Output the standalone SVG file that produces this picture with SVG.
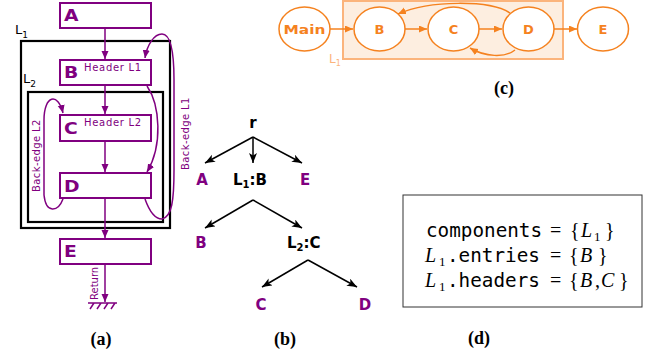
<svg xmlns="http://www.w3.org/2000/svg" width="649" height="358" viewBox="0 0 649 358">
<style>
.pbox{fill:#fff;stroke:#800080;stroke-width:2}
.pl{fill:#800080;font-family:"DejaVu Sans",sans-serif;font-weight:bold;font-size:15px}
.pe{fill:none;stroke:#800080;stroke-width:1.5}
.ps{fill:#800080;font-family:"DejaVu Sans",sans-serif;font-size:10px}
.loop{fill:none;stroke:#000;stroke-width:2.2}
.ll{font-family:"DejaVu Sans",sans-serif;font-size:13px;fill:#000}
.te{fill:none;stroke:#000;stroke-width:1.5}
.tb{font-family:"DejaVu Sans",sans-serif;font-weight:bold;font-size:15px}
.tp{fill:#800080}
.oe{fill:#fff;stroke:#f5821f;stroke-width:1.5}
.ol{fill:#f5821f;font-family:"DejaVu Sans",sans-serif;font-weight:bold;font-size:13px;text-anchor:middle}
.oa{fill:none;stroke:#f5821f;stroke-width:1.5}
.cap{font-family:"Liberation Serif",serif;font-weight:bold;font-size:18px;text-anchor:middle;fill:#000}
.mono{font-family:"DejaVu Sans Mono",monospace;font-size:19.3px;fill:#000}
.mi{font-family:"Liberation Serif",serif;font-style:italic;font-size:20px;fill:#000}
.mr{font-family:"Liberation Serif",serif;font-size:20px;fill:#000}
.sub{font-family:"Liberation Serif",serif;font-size:13px;fill:#000}
</style>
<defs>
<marker id="ap" markerUnits="userSpaceOnUse" markerWidth="9" markerHeight="8" refX="8" refY="3.5" orient="auto"><path d="M0,0 L8,3.5 L0,7 Z" fill="#800080"/></marker>
<marker id="ab" markerUnits="userSpaceOnUse" markerWidth="11" markerHeight="9" refX="10" refY="4" orient="auto"><path d="M0,0 L10,4 L0,8 L2.5,4 Z" fill="#000"/></marker>
<marker id="ao" markerUnits="userSpaceOnUse" markerWidth="9" markerHeight="8" refX="8" refY="3.5" orient="auto"><path d="M0,0 L8,3.5 L0,7 Z" fill="#f5821f"/></marker>
</defs>

<!-- Panel (a) -->
<g id="loopL1"><rect class="loop" x="21" y="41" width="149" height="187"/><text class="ll" x="15" y="34">L<tspan font-size="9" dy="4">1</tspan></text></g>
<g id="loopL2"><rect class="loop" x="28" y="92" width="135" height="130"/><text class="ll" x="23" y="83">L<tspan font-size="9" dy="4">2</tspan></text></g>

<g id="nodeA"><rect class="pbox" x="60" y="3" width="91" height="25"/><text class="pl" x="64" y="21" transform="translate(64 0) scale(1.25 1) translate(-64 0)">A</text></g>
<g id="nodeB"><rect class="pbox" x="60" y="60" width="91" height="25"/><text class="pl" x="64" y="78" transform="translate(64 0) scale(1.25 1) translate(-64 0)">B</text><text class="ps" x="84" y="71" font-size="10.5" letter-spacing="0.7">Header L1</text></g>
<g id="nodeC"><rect class="pbox" x="60" y="115" width="91" height="26"/><text class="pl" x="64" y="134" transform="translate(64 0) scale(1.25 1) translate(-64 0)">C</text><text class="ps" x="84" y="126" font-size="10.5" letter-spacing="0.7">Header L2</text></g>
<g id="nodeD"><rect class="pbox" x="60" y="173" width="91" height="25"/><text class="pl" x="64" y="192" transform="translate(64 0) scale(1.25 1) translate(-64 0)">D</text></g>
<g id="nodeE"><rect class="pbox" x="60" y="239" width="91" height="25"/><text class="pl" x="64" y="257" transform="translate(64 0) scale(1.25 1) translate(-64 0)">E</text></g>

<g id="edgesA">
<line class="pe" x1="105" y1="28" x2="105" y2="59" marker-end="url(#ap)"/>
<line class="pe" x1="105" y1="85" x2="105" y2="114" marker-end="url(#ap)"/>
<line class="pe" x1="105" y1="141" x2="105" y2="172" marker-end="url(#ap)"/>
<line class="pe" x1="105" y1="198" x2="105" y2="238" marker-end="url(#ap)"/>
<line class="pe" x1="105" y1="264" x2="105" y2="302" marker-end="url(#ap)"/>
<path class="pe" d="M147,86 C160,105 163,145 147,172" marker-end="url(#ap)"/>
<path class="pe" d="M145,199 C150,213 156,219 162,219 C172,217 174,200 174,170 L174,80 C174,50 170,34 162,34 C154,34 147,45 145,58" marker-end="url(#ap)"/>
<path class="pe" d="M63,199 C58,212 46,214 44,195 L44,120 C44,95 58,92 63,113" marker-end="url(#ap)"/>
<path class="pe" d="M88,303 L117,303 M94,303 L90,309 M101,303 L97,309 M108,303 L104,309 M115,303 L111,309"/>
<text class="ps" font-size="8" transform="translate(98 300) rotate(-90)">Return</text>
<text class="ps" transform="translate(189 170) rotate(-90)" letter-spacing="0.4">Back-edge L1</text>
<text class="ps" transform="translate(40 192) rotate(-90)" letter-spacing="0.4">Back-edge L2</text>
</g>
<text class="cap" x="101" y="345">(a)</text>

<!-- Panel (b) -->
<g id="tree_r"><text class="tb" x="253" y="128" text-anchor="middle">r</text></g>
<g id="tree_A"><text class="tb tp" x="202" y="185" text-anchor="middle">A</text></g>
<g id="tree_L1B"><text class="tb" x="233" y="185">L<tspan font-size="10" dy="3">1</tspan><tspan dy="-3">:B</tspan></text></g>
<g id="tree_E"><text class="tb tp" x="305" y="185" text-anchor="middle">E</text></g>
<g id="tree_B"><text class="tb tp" x="201" y="248" text-anchor="middle">B</text></g>
<g id="tree_L2C"><text class="tb" x="287" y="248">L<tspan font-size="10" dy="3">2</tspan><tspan dy="-3">:C</tspan></text></g>
<g id="tree_C"><text class="tb tp" x="261" y="310" text-anchor="middle">C</text></g>
<g id="tree_D"><text class="tb tp" x="365" y="310" text-anchor="middle">D</text></g>
<g id="edgesB">
<line class="te" x1="253" y1="137" x2="205" y2="163" marker-end="url(#ab)"/>
<line class="te" x1="253" y1="137" x2="253" y2="163" marker-end="url(#ab)"/>
<line class="te" x1="253" y1="137" x2="302" y2="163" marker-end="url(#ab)"/>
<line class="te" x1="253" y1="200" x2="205" y2="228" marker-end="url(#ab)"/>
<line class="te" x1="253" y1="200" x2="302" y2="228" marker-end="url(#ab)"/>
<line class="te" x1="308" y1="260" x2="262" y2="287" marker-end="url(#ab)"/>
<line class="te" x1="308" y1="260" x2="357" y2="287" marker-end="url(#ab)"/>
</g>
<text class="cap" x="285" y="345">(b)</text>

<!-- Panel (c) -->
<g id="clusterL1"><rect x="343" y="1" width="220" height="58" fill="#fdeee0" stroke="#fbb47c" stroke-width="2"/><text x="329" y="63" fill="#fbb47c" font-family="DejaVu Sans,sans-serif" font-size="12">L<tspan font-size="8" dy="3">1</tspan></text></g>
<g id="cMain"><ellipse class="oe" cx="304.5" cy="29" rx="25.5" ry="22"/><text class="ol" x="304.5" y="34" textLength="42" lengthAdjust="spacingAndGlyphs">Main</text></g>
<g id="cB"><ellipse class="oe" cx="379.5" cy="29" rx="25.5" ry="22"/><text class="ol" x="379.5" y="34">B</text></g>
<g id="cC"><ellipse class="oe" cx="453.5" cy="29" rx="25.5" ry="22"/><text class="ol" x="453.5" y="34">C</text></g>
<g id="cD"><ellipse class="oe" cx="528.5" cy="29" rx="25.5" ry="22"/><text class="ol" x="528.5" y="34">D</text></g>
<g id="cE"><ellipse class="oe" cx="603" cy="29" rx="25.5" ry="22"/><text class="ol" x="603" y="34">E</text></g>
<g id="edgesC">
<line class="oa" x1="330" y1="29" x2="353" y2="29" marker-end="url(#ao)"/>
<line class="oa" x1="405" y1="29" x2="427" y2="29" marker-end="url(#ao)"/>
<line class="oa" x1="479" y1="29" x2="502" y2="29" marker-end="url(#ao)"/>
<line class="oa" x1="554" y1="29" x2="577" y2="29" marker-end="url(#ao)"/>
<path class="oa" d="M510,13 C490,0 430,0 398,14" marker-end="url(#ao)"/>
<path class="oa" d="M515,50 C505,58 485,57 470,48" marker-end="url(#ao)"/>
</g>
<text class="cap" x="504" y="94">(c)</text>

<!-- Panel (d) -->
<g id="infoBox">
<rect x="403" y="195" width="239" height="112" fill="#fff" stroke="#333" stroke-width="1"/>
<text class="mono" x="426" y="237">components</text>
<text class="mr" x="550" y="237">=</text>
<text class="mr" x="570" y="237">{</text>
<text class="mi" x="581" y="237">L</text>
<text class="sub" x="594" y="241">1</text>
<text class="mr" x="605" y="237">}</text>

<text class="mi" x="425" y="262">L</text>
<text class="sub" x="439" y="266">1</text>
<text class="mono" x="447" y="262">.entries</text>
<text class="mr" x="550" y="262">=</text>
<text class="mr" x="569" y="262">{</text>
<text class="mi" x="580" y="262">B</text>
<text class="mr" x="598" y="262">}</text>

<text class="mi" x="425" y="287">L</text>
<text class="sub" x="439" y="291">1</text>
<text class="mono" x="447" y="287">.headers</text>
<text class="mr" x="550" y="287">=</text>
<text class="mr" x="569" y="287">{</text>
<text class="mi" x="580" y="287">B</text>
<text class="mr" x="595" y="287">,</text>
<text class="mi" x="601" y="287">C</text>
<text class="mr" x="619" y="287">}</text>
</g>
<text class="cap" x="479" y="344">(d)</text>
</svg>
